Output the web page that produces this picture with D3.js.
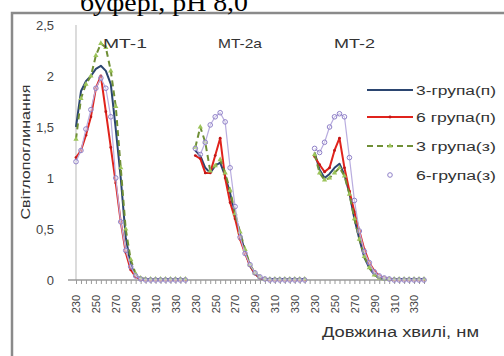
<!DOCTYPE html>
<html>
<head>
<meta charset="utf-8">
<script src="https://cdn.jsdelivr.net/npm/d3@7"></script>
<style>
  html, body { margin: 0; padding: 0; background: #fff; }
  svg { display: block; }
</style>
</head>
<body>
<svg id="chart" width="504" height="356"></svg>
<script>
// ---- data ----
const titleText = "буфері, pH 8,0";
const segmentNames = ["MT-1", "MT-2a", "MT-2"];
const wavelengths = [230,235,240,245,250,255,260,265,270,275,280,285,290,295,300,305,310,315,320,325,330,335,340];
const tickLabels = ["230", "250", "270", "290", "310", "330"];
const yTicks = [0, 0.5, 1, 1.5, 2, 2.5];
const seriesNames = ["3-група(п)", "6 група(п)", "3 група(з)", "6-група(з)"];

const group3p = [
  [1.50,1.85,1.95,2.00,2.07,2.10,2.05,1.92,1.48,1.00,0.42,0.15,0.04,0.01,0.01,0.01,0.01,0.01,0.01,0.01,0.01,0.01,0.01],
  [1.27,1.22,1.10,1.05,1.12,1.15,1.02,0.85,0.63,0.45,0.28,0.14,0.06,0.02,0.01,0.01,0.01,0.01,0.01,0.01,0.01,0.01,0.01],
  [1.25,1.08,1.00,1.04,1.10,1.14,1.03,0.85,0.60,0.40,0.22,0.12,0.05,0.02,0.01,0.01,0.01,0.01,0.01,0.01,0.01,0.01,0.01]
];
const group6p = [
  [1.20,1.27,1.42,1.60,1.88,2.00,1.65,1.30,0.95,0.57,0.27,0.10,0.03,0.01,0.00,0.00,0.00,0.00,0.00,0.00,0.00,0.00,0.00],
  [1.22,1.19,1.05,1.05,1.22,1.39,1.00,0.76,0.60,0.40,0.26,0.14,0.06,0.02,0.01,0.00,0.00,0.00,0.00,0.00,0.00,0.00,0.00],
  [1.21,1.13,1.06,1.10,1.27,1.39,1.10,0.87,0.67,0.48,0.30,0.17,0.09,0.04,0.02,0.01,0.00,0.00,0.00,0.00,0.00,0.00,0.00]
];
const group3z = [
  [1.38,1.78,1.92,2.00,2.20,2.32,2.28,2.05,1.70,1.10,0.50,0.20,0.06,0.02,0.01,0.01,0.01,0.01,0.01,0.01,0.01,0.01,0.01],
  [1.30,1.50,1.35,1.07,1.12,1.18,1.05,0.88,0.65,0.47,0.30,0.15,0.07,0.03,0.01,0.01,0.01,0.01,0.01,0.01,0.01,0.01,0.01],
  [1.23,1.05,0.98,1.00,1.05,1.10,1.02,0.84,0.60,0.40,0.23,0.12,0.05,0.02,0.01,0.01,0.01,0.01,0.01,0.01,0.01,0.01,0.01]
];
const group6z = [
  [1.16,1.27,1.48,1.67,1.88,1.98,1.88,1.60,1.00,0.57,0.29,0.13,0.04,0.01,0.00,0.00,0.00,0.00,0.00,0.00,0.00,0.00,0.00],
  [1.29,1.23,1.35,1.52,1.60,1.64,1.55,1.10,0.72,0.42,0.26,0.15,0.07,0.03,0.01,0.00,0.00,0.00,0.00,0.00,0.00,0.00,0.00],
  [1.29,1.25,1.35,1.50,1.60,1.63,1.60,1.20,0.78,0.48,0.28,0.17,0.08,0.04,0.02,0.01,0.00,0.00,0.00,0.00,0.00,0.00,0.00]
];

// ---- setup ----
const svg = d3.select("#chart");
const font = "'Liberation Sans', Arial, sans-serif";
const perSeg = wavelengths.length + 1; // one blank category between segments
const nCat = perSeg * segmentNames.length - 1;

const x = d3.scaleLinear().domain([0, nCat - 1]).range([76, 424]);
const y = d3.scaleLinear().domain([0, 2.5]).range([280, 25]);

// frame
svg.append("rect").attr("x", 12).attr("y", 13).attr("width", 600).attr("height", 400)
  .attr("fill", "#fff").attr("stroke", "#8a8a8a").attr("stroke-width", 2.5);

// y axis line
svg.append("line").attr("x1", x(0)).attr("x2", x(0)).attr("y1", y(2.5)).attr("y2", y(0))
  .attr("stroke", "#c4c4c4").attr("stroke-width", 1.2);

// y tick labels
svg.append("g").selectAll("text").data(yTicks).join("text")
  .attr("x", 54).attr("y", d => y(d) + 4.5)
  .attr("text-anchor", "end")
  .attr("font-family", font).attr("font-size", 13).attr("fill", "#444")
  .text(d => String(d).replace(".", ","));

// x axis
const xAxis = d3.axisBottom(x)
  .tickValues(d3.range(nCat))
  .tickSize(4)
  .tickFormat(i => {
    const j = i % perSeg;
    return (j % 4 === 0 && j < wavelengths.length) ? tickLabels[j / 4] : "";
  });
const gx = svg.append("g").attr("transform", `translate(0,${y(0)})`).call(xAxis);
gx.select(".domain").remove();
gx.selectAll(".tick line").attr("stroke", "#9a9a9a");
gx.selectAll(".tick text")
  .attr("font-family", font).attr("font-size", 11).attr("fill", "#444")
  .attr("transform", "rotate(-90)")
  .attr("text-anchor", "end")
  .attr("x", -15).attr("y", 0).attr("dy", "0.35em");
svg.append("line").attr("x1", 68).attr("x2", 424).attr("y1", y(0)).attr("y2", y(0))
  .attr("stroke", "#9a9a9a").attr("stroke-width", 1.3);

// series config (styles)
const series = [
  { name: seriesNames[0], data: group3p, color: "#2b4570", width: 2, dash: null, marker: "none" },
  { name: seriesNames[1], data: group6p, color: "#e0231c", width: 2, dash: null, marker: "dot" },
  { name: seriesNames[2], data: group3z, color: "#6f8f36", width: 2, dash: "6,4", marker: "tri" },
  { name: seriesNames[3], data: group6z, color: "#b9addf", width: 1.2, dash: null, marker: "circle" }
];

const line = d3.line().x(d => x(d.i)).y(d => y(d.v));
const triangle = d3.symbol().type(d3.symbolTriangle).size(12);

series.forEach(s => {
  const g = svg.append("g");
  s.data.forEach((seg, si) => {
    const pts = seg.map((v, j) => ({ i: si * perSeg + j, v }));
    g.append("path").datum(pts).attr("d", line)
      .attr("fill", "none").attr("stroke", s.color).attr("stroke-width", s.width)
      .attr("stroke-dasharray", s.dash).attr("stroke-linejoin", "round");
    if (s.marker === "dot") {
      g.selectAll(null).data(pts).join("circle")
        .attr("cx", d => x(d.i)).attr("cy", d => y(d.v)).attr("r", 1.4)
        .attr("fill", "#c01818");
    } else if (s.marker === "tri") {
      g.selectAll(null).data(pts).join("path")
        .attr("d", triangle)
        .attr("transform", d => `translate(${x(d.i)},${y(d.v)})`)
        .attr("fill", "#9cc45a");
    } else if (s.marker === "circle") {
      g.selectAll(null).data(pts).join("circle")
        .attr("cx", d => x(d.i)).attr("cy", d => y(d.v)).attr("r", 2.3)
        .attr("fill", "#fff").attr("fill-opacity", 0.3)
        .attr("stroke", "#8f80c8").attr("stroke-width", 1);
    }
  });
});

// segment labels
const segPos = [{ x: 103, w: 44 }, { x: 218, w: 44 }, { x: 334, w: 41 }];
svg.append("g").selectAll("text").data(segmentNames).join("text")
  .attr("x", (d, k) => segPos[k].x).attr("y", 48)
  .attr("font-family", font).attr("font-size", 13).attr("fill", "#333")
  .attr("textLength", (d, k) => segPos[k].w).attr("lengthAdjust", "spacingAndGlyphs")
  .text(d => d);

// legend
const legY = [90, 117, 146, 175];
const lg = svg.append("g");
series.forEach((s, k) => {
  const ly = legY[k];
  if (s.marker !== "circle") {
    lg.append("line").attr("x1", 367).attr("x2", 413).attr("y1", ly).attr("y2", ly)
      .attr("stroke", s.color).attr("stroke-width", s.width).attr("stroke-dasharray", s.dash);
  }
  if (s.marker === "dot") {
    lg.append("circle").attr("cx", 390).attr("cy", ly).attr("r", 1.4).attr("fill", "#c01818");
  } else if (s.marker === "tri") {
    lg.append("path").attr("d", triangle).attr("transform", `translate(390,${ly})`).attr("fill", "#9cc45a");
  } else if (s.marker === "circle") {
    lg.append("circle").attr("cx", 390).attr("cy", ly).attr("r", 2.3)
      .attr("fill", "none").attr("stroke", "#8f80c8").attr("stroke-width", 1);
  }
  lg.append("text").attr("x", 416).attr("y", ly + 4.5)
    .attr("font-family", font).attr("font-size", 12.5).attr("fill", "#333")
    .attr("textLength", 80).attr("lengthAdjust", "spacingAndGlyphs")
    .text(s.name);
});

// axis titles
svg.append("text")
  .attr("transform", "translate(30,152) rotate(-90)")
  .attr("text-anchor", "middle")
  .attr("font-family", font).attr("font-size", 13).attr("fill", "#333")
  .attr("textLength", 135).attr("lengthAdjust", "spacingAndGlyphs")
  .text("Світлопоглинання");
svg.append("text")
  .attr("x", 322).attr("y", 337)
  .attr("font-family", font).attr("font-size", 14).attr("fill", "#333")
  .attr("textLength", 157).attr("lengthAdjust", "spacingAndGlyphs")
  .text("Довжина хвилі, нм");

// partial title (cut off at top)
svg.append("text")
  .attr("x", 80).attr("y", 11)
  .attr("font-family", "'Liberation Serif', 'Times New Roman', serif")
  .attr("font-size", 25).attr("fill", "#000")
  .attr("textLength", 168).attr("lengthAdjust", "spacingAndGlyphs")
  .text(titleText);
</script>
</body>
</html>
